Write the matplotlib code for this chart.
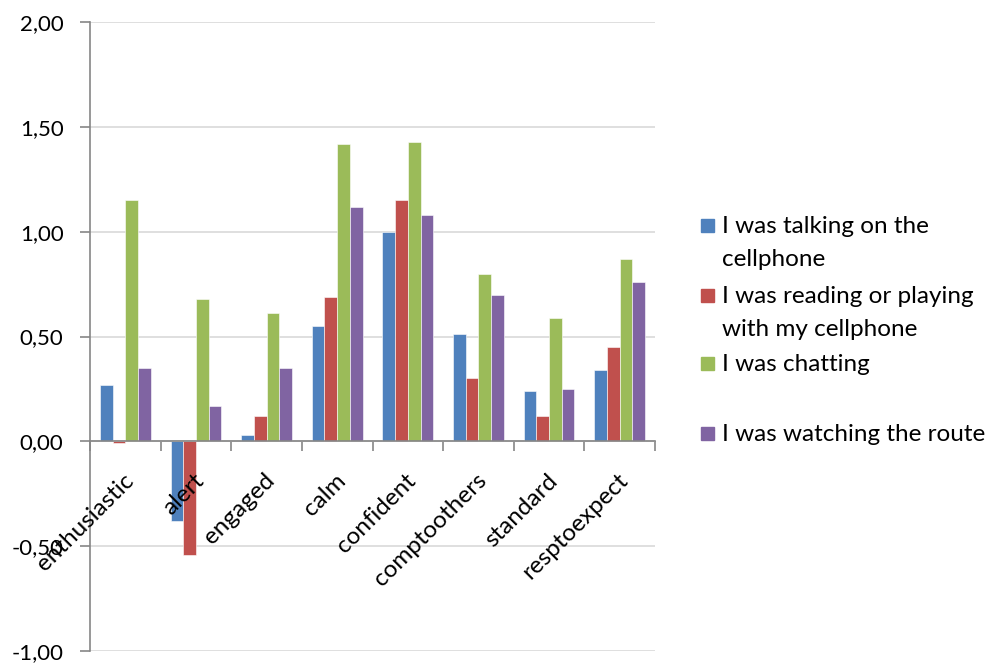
import matplotlib
matplotlib.use("Agg")
import matplotlib.pyplot as plt
import matplotlib.transforms as mtransforms
from matplotlib.patches import Rectangle
from matplotlib.ticker import FuncFormatter
import numpy as np

categories = ["enthusiastic", "alert", "engaged", "calm", "confident",
              "comptoothers", "standard", "resptoexpect"]
series_names = ["I was talking on the\ncellphone",
                "I was reading or playing\nwith my cellphone",
                "I was chatting",
                "I was watching the route"]
talking = [0.27, -0.38, 0.03, 0.55, 1.00, 0.51, 0.24, 0.34]
reading = [-0.01, -0.54, 0.12, 0.69, 1.15, 0.30, 0.12, 0.45]
chatting = [1.15, 0.68, 0.61, 1.42, 1.43, 0.80, 0.59, 0.87]
watching = [0.35, 0.17, 0.35, 1.12, 1.08, 0.70, 0.25, 0.76]
y_ticks = [-1.0, -0.5, 0.0, 0.5, 1.0, 1.5, 2.0]

colors = ["#4F81BD", "#C0504D", "#9BBB59", "#8064A2"]
axis_gray = "#868686"
grid_gray = "#D9D9D9"
font = "Lato"
fs = 17.5

W, H = 990, 664
fig = plt.figure(figsize=(W / 100, H / 100), dpi=100)
ax = fig.add_axes([90 / W, 1 - 651 / H, (655 - 90) / W, (651 - 22) / H])

x = np.arange(len(categories))
bw = 0.18
for k, vals in enumerate([talking, reading, chatting, watching]):
    ax.bar(x + (k - 1.5) * bw, vals, width=bw, color=colors[k],
           edgecolor="white", linewidth=0.4, zorder=3)

ax.set_xlim(-0.5, len(categories) - 0.5)
ax.set_ylim(y_ticks[0], y_ticks[-1])
ax.set_yticks(y_ticks)
ax.yaxis.set_major_formatter(FuncFormatter(lambda v, p: f"{v:.2f}".replace(".", ",")))
ax.grid(axis="y", color=grid_gray, linewidth=1.2, zorder=0)
ax.set_axisbelow(True)

for s in ["top", "right"]:
    ax.spines[s].set_visible(False)
ax.spines["left"].set_color(axis_gray)
ax.spines["left"].set_linewidth(1.2)
ax.spines["bottom"].set_position(("data", 0))
ax.spines["bottom"].set_color(axis_gray)
ax.spines["bottom"].set_linewidth(1.2)
ax.spines["bottom"].set_zorder(4)

ax.set_xticks(np.arange(-0.5, len(categories), 1.0))
ax.set_xticklabels([])
ax.tick_params(axis="x", direction="out", length=7, color=axis_gray, width=1.2)
ax.tick_params(axis="y", direction="out", length=7, color=axis_gray, width=1.2,
               pad=12, labelsize=16, labelcolor="black")
for lab in ax.get_yticklabels():
    lab.set_fontfamily(font)

# Category names sit rotated just under the zero line
offset = mtransforms.ScaledTranslation(0.05, -0.36, fig.dpi_scale_trans)
for i, name in enumerate(categories):
    ax.text(i, 0, name, rotation=45, rotation_mode="anchor", ha="right",
            va="center", fontsize=fs, family=font, transform=ax.transData + offset,
            zorder=5)

# Legend on the right
legend_rows = [225, 295, 363, 433]
for k, (name, yrow) in enumerate(zip(series_names, legend_rows)):
    fig.patches.append(Rectangle((701 / W, 1 - (yrow + 7) / H), 13 / W, 13 / H,
                                 transform=fig.transFigure, color=colors[k]))
    fig.text(722 / W, 1 - (yrow - 9) / H, name, ha="left", va="top",
             fontsize=fs, family=font, linespacing=1.7)

fig.savefig("out.png", dpi=100)
